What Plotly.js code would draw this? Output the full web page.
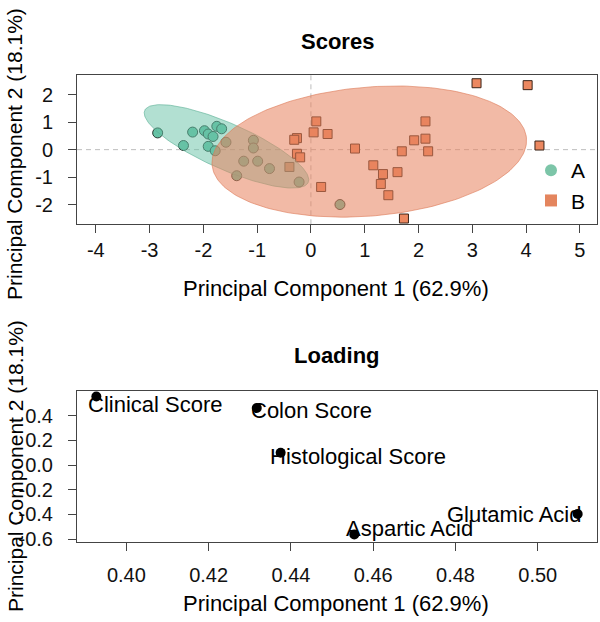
<!DOCTYPE html>
<html><head><meta charset="utf-8">
<script src="https://cdn.plot.ly/plotly-3.0.1.min.js"></script>
<style>html,body{margin:0;padding:0;background:#fff}#chart{width:600px;height:622px}</style>
</head><body><div id="chart"></div>
<script>
// ---- Scores data (PC1, PC2) ----
const groupA_pc1 = [-2.85,-2.20,-2.37,-1.98,-1.91,-1.82,-1.75,-1.66,-1.91,-1.78,-1.58,-1.07,-1.07,-1.25,-0.99,-0.77,-1.38,-0.22,0.54];
const groupA_pc2 = [0.61,0.64,0.15,0.69,0.57,0.48,0.85,0.76,0.12,-0.04,0.27,0.34,0.06,-0.42,-0.42,-0.69,-0.95,-1.18,-2.00];
const groupB_pc1 = [0.10,0.05,0.31,-0.26,-0.31,-0.26,-0.20,-0.40,0.19,3.08,4.03,0.82,2.13,1.92,2.13,1.69,2.18,4.25,1.16,1.34,1.61,1.30,1.44,1.73];
const groupB_pc2 = [1.03,0.63,0.57,0.42,0.36,-0.15,-0.28,-0.63,-1.36,2.42,2.35,0.04,1.03,0.34,0.40,-0.06,-0.06,0.15,-0.57,-0.89,-0.82,-1.25,-1.66,-2.51];
const groupNames = ["A","B"];

// confidence ellipses: centre, half-extent (x, y), correlation
const ellipseA_centre = [-1.57, 0.12];
const ellipseA_half = [1.53, 1.52];
const ellipseA_r = -0.80;
const ellipseB_centre = [1.085, -0.07];
const ellipseB_half = [2.925, 2.39];
const ellipseB_r = 0.17;

// ---- Loading data ----
const loadingVars = ["Clinical Score","Colon Score","Histological Score","Glutamic Acid","Aspartic Acid"];
const loadingPC1 = [0.3927, 0.4317, 0.4375, 0.5097, 0.4554];
const loadingPC2 = [0.555, 0.462, 0.100, -0.397, -0.563];

// ---- Tick values ----
const scoresXTicks = [-4,-3,-2,-1,0,1,2,3,4,5];
const scoresYTicks = [-2,-1,0,1,2];
const loadingXTicks = [0.40,0.42,0.44,0.46,0.48,0.50];
const loadingYTicks = [-0.6,-0.4,-0.2,0.0,0.2,0.4];

const xTitle = "Principal Component 1 (62.9%)";
const yTitle = "Principal Component 2 (18.1%)";

function confEllipse(centre, half, r, n) {
  const d = Math.acos(r), xs = [], ys = [];
  for (let i = 0; i <= n; i++) {
    const a = 2 * Math.PI * i / n;
    xs.push(centre[0] + half[0] * Math.cos(a + d / 2));
    ys.push(centre[1] + half[1] * Math.cos(a - d / 2));
  }
  return {xs, ys};
}

const colA = '#66C2A5', colB = '#EC8860';
const eA = confEllipse(ellipseA_centre, ellipseA_half, ellipseA_r, 200);
const eB = confEllipse(ellipseB_centre, ellipseB_half, ellipseB_r, 200);

const traces = [
  {x: groupA_pc1, y: groupA_pc2, type: 'scatter', mode: 'markers', showlegend: false, hoverinfo: 'x+y',
   marker: {symbol: 'circle', size: 10, color: colA, line: {color: '#2a3a33', width: 1}}},
  {x: groupB_pc1, y: groupB_pc2, type: 'scatter', mode: 'markers', showlegend: false, hoverinfo: 'x+y',
   marker: {symbol: 'square', size: 9, color: colB, line: {color: '#3a2418', width: 1}}},
  {x: eA.xs, y: eA.ys, type: 'scatter', mode: 'lines', fill: 'toself', showlegend: false, hoverinfo: 'skip',
   fillcolor: 'rgba(102,194,165,0.50)', line: {color: 'rgba(90,175,148,0.6)', width: 1}},
  {x: eB.xs, y: eB.ys, type: 'scatter', mode: 'lines', fill: 'toself', showlegend: false, hoverinfo: 'skip',
   fillcolor: 'rgba(232,130,92,0.55)', line: {color: 'rgba(220,120,85,0.6)', width: 1}},
  {x: [null], y: [null], type: 'scatter', mode: 'markers', name: groupNames[0],
   marker: {symbol: 'circle', size: 12, color: '#7CC5A8'}},
  {x: [null], y: [null], type: 'scatter', mode: 'markers', name: groupNames[1],
   marker: {symbol: 'square', size: 12, color: '#E4855E'}},
  {x: loadingPC1, y: loadingPC2, xaxis: 'x2', yaxis: 'y2', type: 'scatter', mode: 'markers', showlegend: false,
   text: loadingVars, hoverinfo: 'text', marker: {symbol: 'circle', size: 10, color: '#000'}}
];

const axisCommon = {
  showline: true, mirror: true, linecolor: '#444', linewidth: 1,
  ticks: 'outside', ticklen: 8, tickwidth: 1, tickcolor: '#444',
  showgrid: false, zeroline: false, tickfont: {size: 20, color: '#111'},
  fixedrange: true
};

const xDom = [77/600, 597/600];
const labelAnchor = ['left','left','left','right','left'];
const labelXShift = [-10,-8,-13,6,-10];
const labelYShift = [-8,-2,-4,0,6];

const ann = (text, px, py, extra) => Object.assign({text: text, xref: 'paper', yref: 'paper',
  x: px/600, y: (622-py)/622, xanchor: 'center', yanchor: 'middle', showarrow: false, font: {size: 22}}, extra || {});

const annotations = [
  ann('<b>Scores</b>', 337, 42),
  ann('<b>Loading</b>', 337, 355),
  ann(xTitle, 336, 288),
  ann(xTitle, 336, 603),
  ann(yTitle, 15, 154, {textangle: -90, font: {size: 21}}),
  ann(yTitle, 15, 466, {textangle: -90, font: {size: 21}})
];
loadingVars.forEach((v, i) => {
  annotations.push({text: v, xref: 'x2', yref: 'y2', x: loadingPC1[i], y: loadingPC2[i], showarrow: false,
    xanchor: labelAnchor[i], yanchor: 'middle', xshift: labelXShift[i], yshift: labelYShift[i], font: {size: 22, color: '#000'}});
});

const layout = {
  width: 600, height: 622, margin: {l: 0, r: 0, t: 0, b: 0},
  paper_bgcolor: '#fff', plot_bgcolor: '#fff',
  font: {family: '"Liberation Sans", Arial, sans-serif', size: 18, color: '#000'},
  showlegend: true,
  legend: {x: 531/600, y: (622-150)/622, xanchor: 'left', yanchor: 'top', bgcolor: 'rgba(0,0,0,0)',
           font: {size: 21}, itemwidth: 30, tracegroupgap: 0},
  xaxis: Object.assign({}, axisCommon, {domain: xDom, range: [-4.35, 5.32], anchor: 'y', ticklabelstandoff: 0,
    tickvals: scoresXTicks, ticktext: scoresXTicks.map(String)}),
  yaxis: Object.assign({}, axisCommon, {domain: [(622-224.3)/622, (622-75)/622], range: [-2.72, 2.72], anchor: 'x',
    ticklabelstandoff: 11, tickvals: scoresYTicks, ticktext: scoresYTicks.map(String)}),
  xaxis2: Object.assign({}, axisCommon, {domain: xDom, range: [0.388, 0.5144], anchor: 'y2', ticklabelstandoff: 7,
    tickvals: loadingXTicks, ticktext: loadingXTicks.map(v => v.toFixed(2))}),
  yaxis2: Object.assign({}, axisCommon, {domain: [(622-542)/622, (622-391)/622], range: [-0.624, 0.600], anchor: 'x2',
    ticklabelstandoff: 11, tickvals: loadingYTicks, ticktext: loadingYTicks.map(v => v.toFixed(1))}),
  shapes: [
    {type: 'line', xref: 'x', yref: 'y domain', x0: 0, x1: 0, y0: 0, y1: 1, layer: 'below',
     line: {color: '#bdbdbd', width: 1, dash: '5px,4px'}},
    {type: 'line', xref: 'x domain', yref: 'y', x0: 0, x1: 1, y0: 0, y1: 0, layer: 'below',
     line: {color: '#bdbdbd', width: 1, dash: '5px,4px'}}
  ],
  annotations: annotations
};

Plotly.newPlot('chart', traces, layout, {displayModeBar: false, staticPlot: true});
</script>
</body></html>
